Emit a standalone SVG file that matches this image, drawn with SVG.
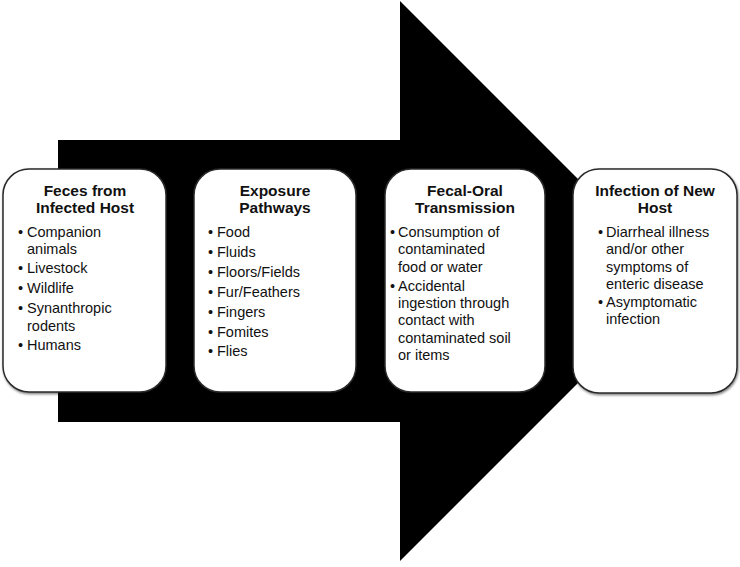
<svg xmlns="http://www.w3.org/2000/svg" width="740" height="567" viewBox="0 0 740 567">
<style>
.box{fill:#fff;stroke:#2a2a2a;stroke-width:1.5;filter:url(#sh)}
.t{font-family:"Liberation Sans",Arial,sans-serif;font-weight:bold;font-size:15.5px;fill:#111;text-anchor:middle}
.b{font-family:"Liberation Sans",Arial,sans-serif;font-size:14.5px;fill:#111}
</style>
<defs>
<filter id="sh" x="-10%" y="-10%" width="120%" height="120%">
<feDropShadow dx="0.8" dy="1.5" stdDeviation="1" flood-color="#000" flood-opacity="0.5"/>
</filter>
</defs>
<rect width="740" height="567" fill="#fff"/>
<g id="connectors">
<path id="arrow" d="M58,140 H400 V1 L680,281 L400,561 V422 H58 Z" fill="#000"/>
</g>
<g id="node1">
<rect class="box" x="3" y="169" width="163" height="223" rx="26"/>
<text class="t" x="85" y="196">Feces from</text>
<text class="t" x="85" y="213">Infected Host</text>
<g class="b">
<text x="18" y="237">•</text><text x="27" y="237">Companion</text>
<text x="27" y="254">animals</text>
<text x="18" y="273">•</text><text x="27" y="273">Livestock</text>
<text x="18" y="293">•</text><text x="27" y="293">Wildlife</text>
<text x="18" y="313">•</text><text x="27" y="313">Synanthropic</text>
<text x="27" y="331">rodents</text>
<text x="18" y="350">•</text><text x="27" y="350">Humans</text>
</g>
</g>
<g id="node2">
<rect class="box" x="194" y="169" width="162" height="223" rx="26"/>
<text class="t" x="275" y="196">Exposure</text>
<text class="t" x="275" y="213">Pathways</text>
<g class="b">
<text x="208" y="237">•</text><text x="217" y="237">Food</text>
<text x="208" y="257">•</text><text x="217" y="257">Fluids</text>
<text x="208" y="277">•</text><text x="217" y="277">Floors/Fields</text>
<text x="208" y="297">•</text><text x="217" y="297">Fur/Feathers</text>
<text x="208" y="317">•</text><text x="217" y="317">Fingers</text>
<text x="208" y="337">•</text><text x="217" y="337">Fomites</text>
<text x="208" y="356">•</text><text x="217" y="356">Flies</text>
</g>
</g>
<g id="node3">
<rect class="box" x="385" y="169" width="160" height="223" rx="26"/>
<text class="t" x="465" y="196">Fecal-Oral</text>
<text class="t" x="465" y="213">Transmission</text>
<g class="b">
<text x="390" y="237">•</text><text x="398" y="237">Consumption of</text>
<text x="398" y="254">contaminated</text>
<text x="398" y="272">food or water</text>
<text x="390" y="291">•</text><text x="398" y="291">Accidental</text>
<text x="398" y="308">ingestion through</text>
<text x="398" y="325">contact with</text>
<text x="398" y="343">contaminated soil</text>
<text x="398" y="360">or items</text>
</g>
</g>
<g id="node4">
<rect class="box" x="573" y="169" width="164" height="224" rx="26"/>
<text class="t" x="655" y="196">Infection of New</text>
<text class="t" x="655" y="213">Host</text>
<g class="b">
<text x="598" y="237">•</text><text x="606" y="237">Diarrheal illness</text>
<text x="606" y="254">and/or other</text>
<text x="606" y="272">symptoms of</text>
<text x="606" y="289">enteric disease</text>
<text x="598" y="307">•</text><text x="606" y="307">Asymptomatic</text>
<text x="606" y="324">infection</text>
</g>
</g>
</svg>
